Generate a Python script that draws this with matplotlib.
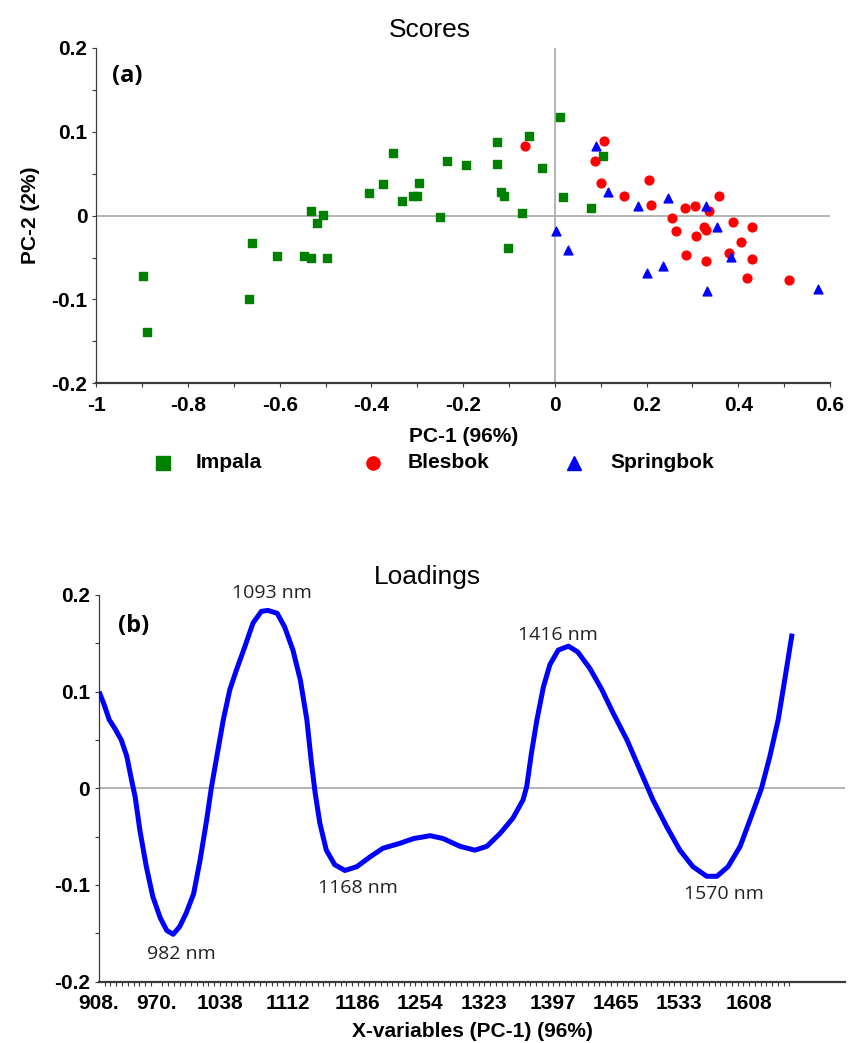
import matplotlib
matplotlib.use("Agg")
import matplotlib.pyplot as plt
from matplotlib.lines import Line2D
from matplotlib.ticker import FixedLocator, MultipleLocator

plt.rcParams["font.family"] = ["Liberation Sans", "DejaVu Sans"]
plt.rcParams["axes.unicode_minus"] = False

# Scores PC-1 x PC-2
impala_pc1 = [-0.898, -0.889, -0.667, -0.660, -0.605, -0.547, -0.531, -0.496, -0.531, -0.505,
              -0.518, -0.406, -0.374, -0.354, -0.334, -0.309, -0.300, -0.297, -0.251, -0.236,
              -0.193, -0.126, -0.126, -0.056, -0.028, -0.118, -0.111, -0.071, -0.103, 0.011,
              0.017, 0.079, 0.105]
impala_pc2 = [-0.072, -0.139, -0.099, -0.033, -0.048, -0.048, -0.050, -0.051, 0.005, 0.001,
              -0.009, 0.027, 0.038, 0.075, 0.017, 0.024, 0.024, 0.039, -0.002, 0.065,
              0.061, 0.088, 0.062, 0.095, 0.057, 0.028, 0.024, 0.003, -0.039, 0.118,
              0.022, 0.009, 0.071]

blesbok_pc1 = [-0.066, 0.108, 0.087, 0.100, 0.150, 0.206, 0.209, 0.256, 0.283, 0.306,
               0.358, 0.336, 0.265, 0.308, 0.325, 0.329, 0.388, 0.429, 0.407, 0.380,
               0.287, 0.329, 0.431, 0.420, 0.510]
blesbok_pc2 = [0.083, 0.089, 0.065, 0.039, 0.024, 0.043, 0.013, -0.003, 0.009, 0.012,
               0.024, 0.005, -0.018, -0.024, -0.014, -0.017, -0.007, -0.014, -0.032, -0.044,
               -0.047, -0.054, -0.052, -0.074, -0.077]

springbok_pc1 = [0.089, 0.116, 0.181, 0.247, 0.329, 0.353, 0.003, 0.029, 0.200, 0.235,
                 0.385, 0.332, 0.574]
springbok_pc2 = [0.083, 0.028, 0.011, 0.021, 0.011, -0.013, -0.018, -0.041, -0.069, -0.060,
                 -0.049, -0.090, -0.088]

especies = ["Impala", "Blesbok", "Springbok"]

# Loadings PC-1
comprimento_onda = [908, 913, 919, 925, 932, 938, 943, 947, 952, 959,
                    966, 974, 981, 988, 995, 1002, 1010, 1017, 1024, 1029,
                    1035, 1042, 1049, 1056, 1065, 1074, 1083, 1090, 1100, 1108,
                    1117, 1125, 1132, 1137, 1141, 1146, 1153, 1162, 1173, 1186,
                    1200, 1214, 1232, 1247, 1265, 1279, 1297, 1313, 1326, 1340,
                    1354, 1365, 1369, 1374, 1380, 1387, 1394, 1403, 1414, 1424,
                    1437, 1450, 1462, 1477, 1491, 1505, 1520, 1534, 1548, 1563,
                    1574, 1586, 1599, 1611, 1622, 1631, 1640, 1647, 1655]
loading_pc1 = [0.100, 0.088, 0.071, 0.062, 0.050, 0.033, 0.009, -0.009, -0.043, -0.081,
               -0.112, -0.134, -0.147, -0.151, -0.143, -0.129, -0.109, -0.074, -0.033, 0.000,
               0.033, 0.071, 0.102, 0.122, 0.146, 0.171, 0.183, 0.184, 0.181, 0.167,
               0.143, 0.112, 0.071, 0.026, -0.005, -0.036, -0.064, -0.079, -0.085, -0.081,
               -0.071, -0.062, -0.057, -0.052, -0.049, -0.052, -0.060, -0.064, -0.060, -0.047,
               -0.031, -0.012, 0.002, 0.036, 0.071, 0.105, 0.128, 0.143, 0.147, 0.141,
               0.124, 0.102, 0.078, 0.050, 0.019, -0.012, -0.040, -0.064, -0.081, -0.091,
               -0.091, -0.081, -0.060, -0.029, 0.000, 0.033, 0.071, 0.112, 0.160]

picos_nm = [982, 1093, 1168, 1416, 1570]
picos_pos = [(997, -0.171), (1094, 0.202), (1187, -0.103), (1403, 0.159), (1581, -0.109)]

rotulos_x = ["908.", "970.", "1038", "1112", "1186", "1254", "1323", "1397", "1465", "1533", "1608"]
pos_rotulos_x = [908, 970, 1038, 1112, 1186, 1254, 1323, 1397, 1465, 1533, 1608]

cor_eixo = "#3a3a3a"
cor_zero = "#a8a8a8"
fonte_nota = ["Open Sans", "DejaVu Sans"]


def estilo_eixos(ax):
    for lado in ["top", "right"]:
        ax.spines[lado].set_visible(False)
    ax.spines["left"].set_color(cor_eixo)
    ax.spines["left"].set_linewidth(0.9)
    ax.spines["bottom"].set_color(cor_eixo)
    ax.spines["bottom"].set_linewidth(1.6)
    ax.tick_params(which="both", direction="out", colors=cor_eixo, width=0.8, labelcolor="black")
    ax.tick_params(which="both", length=3)
    for t in ax.get_xticklabels() + ax.get_yticklabels():
        t.set_fontweight("bold")


fig = plt.figure(figsize=(8.49, 10.43), dpi=100)

# (a) Scores
ax1 = fig.add_axes([0.1135, 0.6325, 0.864, 0.3215])
ax1.axhline(0, color=cor_zero, lw=1.2, zorder=1)
ax1.axvline(0, color=cor_zero, lw=1.2, zorder=1)
ax1.scatter(impala_pc1, impala_pc2, marker="s", s=38, color="#008000", zorder=3)
ax1.scatter(blesbok_pc1, blesbok_pc2, marker="o", s=40, color="#ff0000", zorder=3)
ax1.scatter(springbok_pc1, springbok_pc2, marker="^", s=40, color="#0000ff", zorder=3)
ax1.set_xlim(-1, 0.6)
ax1.set_ylim(-0.2, 0.2)
ax1.set_xticks([-1, -0.8, -0.6, -0.4, -0.2, 0, 0.2, 0.4, 0.6])
ax1.set_xticklabels(["-1", "-0.8", "-0.6", "-0.4", "-0.2", "0", "0.2", "0.4", "0.6"], fontsize=15)
ax1.xaxis.set_minor_locator(MultipleLocator(0.1))
ax1.set_yticks([-0.2, -0.1, 0, 0.1, 0.2])
ax1.set_yticklabels(["-0.2", "-0.1", "0", "0.1", "0.2"], fontsize=15)
ax1.yaxis.set_minor_locator(MultipleLocator(0.05))
estilo_eixos(ax1)
ax1.tick_params(axis="x", pad=6)
ax1.set_xlabel("PC-1 (96%)", fontsize=15, fontweight="bold", labelpad=9)
ax1.set_ylabel("PC-2 (2%)", fontsize=15, fontweight="bold", labelpad=8)
ax1.text(0.022, 0.9, "(a)", transform=ax1.transAxes, fontsize=17, fontweight="bold", family=fonte_nota)
fig.text(0.506, 0.971, "Scores", ha="center", va="center", fontsize=19)

# legenda das espécies, uma linha abaixo do gráfico de scores
leg_y = 1 - 463 / 1043
for nome, marcador, cor, xm, xt in zip(especies, ["s", "o", "^"], ["#008000", "#ff0000", "#0000ff"],
                                       [163, 373, 574], [196, 408, 610]):
    fig.add_artist(Line2D([xm / 849], [leg_y], transform=fig.transFigure, marker=marcador,
                          markersize=9.5, color=cor, linestyle="none"))
    fig.text(xt / 849, leg_y, nome, ha="left", va="center", fontsize=15, fontweight="bold")

# (b) Loadings
ax2 = fig.add_axes([0.1166, 0.0588, 0.8787, 0.3708])
ax2.axhline(0, color=cor_zero, lw=1.2, zorder=1)
ax2.plot(comprimento_onda, loading_pc1, color="#0000ff", lw=3.6, solid_capstyle="butt", zorder=3)
ax2.set_xlim(908, 1712)
ax2.set_ylim(-0.2, 0.2)
ax2.xaxis.set_major_locator(FixedLocator(pos_rotulos_x))
ax2.xaxis.set_minor_locator(FixedLocator([908 + 6.2 * k for k in range(121)]))
ax2.set_xticklabels(rotulos_x, fontsize=15)
ax2.set_yticks([-0.2, -0.1, 0, 0.1, 0.2])
ax2.set_yticklabels(["-0.2", "-0.1", "0", "0.1", "0.2"], fontsize=15)
ax2.yaxis.set_minor_locator(MultipleLocator(0.05))
estilo_eixos(ax2)
ax2.tick_params(axis="x", which="major", length=0, pad=9)
ax2.set_xlabel("X-variables (PC-1) (96%)", fontsize=15, fontweight="bold", labelpad=6)
ax2.text(0.025, 0.905, "(b)", transform=ax2.transAxes, fontsize=17, fontweight="bold", family=fonte_nota)
for nm, (px, py) in zip(picos_nm, picos_pos):
    ax2.text(px, py, f"{nm} nm", ha="center", va="center", fontsize=14,
             family=fonte_nota, color="#222222")
fig.text(0.504, 1 - 577 / 1043, "Loadings", ha="center", va="center", fontsize=19)

fig.savefig("out.png", dpi=100)
